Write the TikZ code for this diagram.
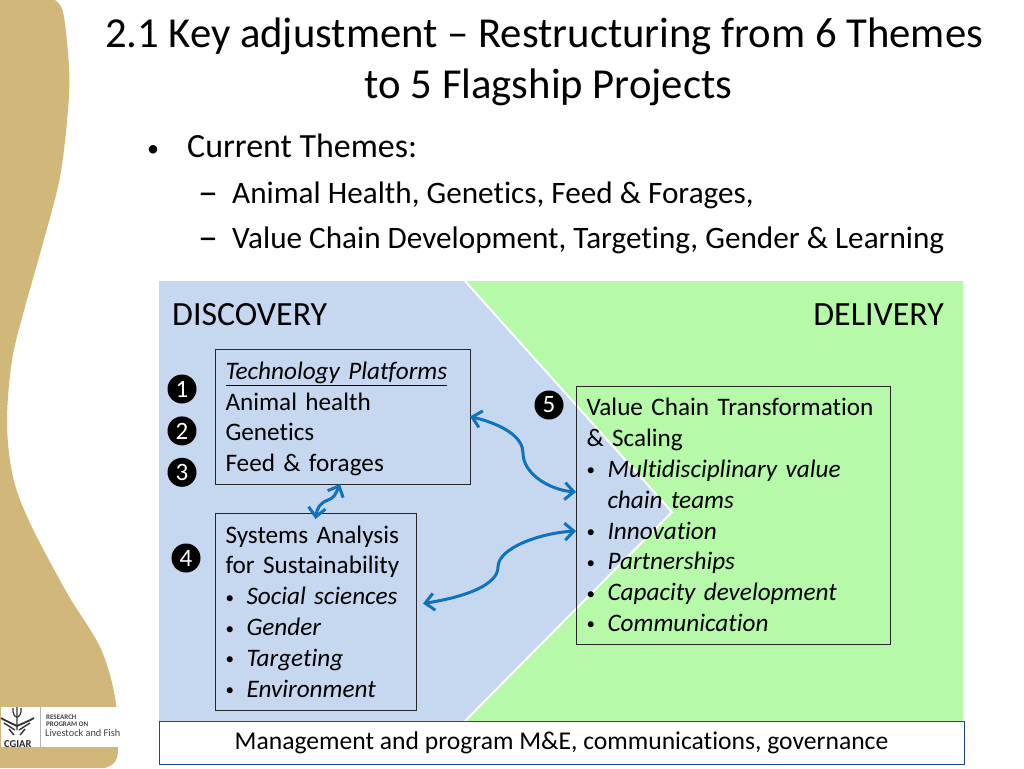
\documentclass[tikz,border=0pt]{standalone}
\usepackage{fontspec}
\setmainfont[Ligatures={CommonOff,TeX}]{Carlito}
\usepackage{tikz}
\usetikzlibrary{positioning}
\usetikzlibrary{arrows.meta}
\definecolor{tan_bg}{HTML}{D2B77B}
\definecolor{disc_blue}{HTML}{C6D8EF}
\definecolor{deliv_green}{HTML}{B6F9A8}
\definecolor{arrow_blue}{HTML}{0F72BA}
\definecolor{foot_line}{HTML}{1F4A80}
\newcommand{\dotmark}{{\fontsize{17}{17}\selectfont\raisebox{1.5pt}{•}}}
\newcommand{\bul}[1]{\makebox[21pt][l]{\dotmark}\textit{#1}}

\begin{document}
\begin{tikzpicture}[x=1pt,y=-1pt,
                          titlenode/.style={font=\fontsize{42.7}{51}\selectfont, align=center},
                          bodynode/.style={font=\fontsize{33.9}{38}\selectfont, anchor=base west, inner sep=0pt},
                          subnode/.style={font=\fontsize{31.2}{34}\selectfont, anchor=base west, inner sep=0pt},
                          dashnode/.style={font=\fontsize{40}{40}\selectfont, anchor=base west, inner sep=0pt},
                          headnode/.style={font=\fontsize{33.9}{36}\selectfont, anchor=base west, inner sep=0pt},
                          roundnode/.style={circle, fill=black, text=white, inner sep=0pt, minimum size=29pt, font=\fontsize{25}{28}\selectfont},
                          boxnode/.style={rectangle, draw=black!85, line width=1pt, outer sep=0pt, inner xsep=10.5pt, inner ysep=0pt, anchor=north west, align=left, font=\fontsize{25.2}{30.8}\selectfont},
                          logotext/.style={inner sep=0pt, anchor=base west, text=black!75},
                          linknode/.style={draw=arrow_blue, line width=3pt, {Straight Barb[length=9pt,width=17pt,line width=3pt]}-{Straight Barb[length=9pt,width=17pt,line width=3pt]}},
                      ]
                      \useasboundingbox (0,0) rectangle (1024,768);
                      \fill[white] (0,0) rectangle (1024,768);

                      %Background
                      \fill[tan_bg] plot[smooth, tension=0.55] coordinates {(53,-1) (63,12) (69,67) (68,110) (60,177) (43,243) (25,307) (12,360) (7,423) (13,477) (30,523) (67,593) (100,647) (115,697) (118,747) (115,762) (105,768)} -- (0,768) -- (0,-1) -- cycle;
                      \fill[disc_blue] (159,281) rectangle (963,721);
                      \fill[deliv_green] (466,281) -- (963,281) -- (963,721) -- (466,721) -- (672,512) -- cycle;
                      \draw[white, line width=2pt] (465,281) -- (672,512) -- (465,721);

                      %Logo
                      \fill[white] (1,707) rectangle (120,747);
                      \draw[black!30, line width=0.7pt] (40,707) -- (40,747);
                      \draw[black!80, line width=1.2pt] (17,707) -- (17,730) (13,708) .. controls (12,720) and (22,720) .. (21,708);
                      \draw[black!80, line width=1.8pt] (1,718) .. controls (8,722) and (13,724) .. (17,726) .. controls (21,724) and (27,722) .. (34,718);
                      \draw[black!80, line width=1.4pt] (4,723) -- (15,730) (30,723) -- (19,730) (9,729) -- (14,735) (25,729) -- (20,735);
                      \node[logotext, font=\bfseries\fontsize{10.5}{12}\selectfont, text=black!85] (logo_cgiar) at (4,747) {CGIAR};
                      \node[logotext, font=\bfseries\fontsize{7}{7}\selectfont] (logo_research) at (46,719) {RESEARCH};
                      \node[logotext, font=\bfseries\fontsize{7}{7}\selectfont] (logo_program) at (46,726) {PROGRAM ON};
                      \node[logotext, font=\fontsize{10.3}{12}\selectfont] (logo_name) at (45,736) {Livestock and Fish};

                      %Nodes
                      \node[titlenode]      (title)   at (544,62)     {2.1 Key adjustment -- Restructuring from 6 Themes\\\hspace*{9pt}to 5 Flagship Projects};
                      \node[bodynode]       (current_dot)  at (147,156)   {\fontsize{24}{24}\selectfont •};
                      \node[bodynode]       (current) at (187,157)    {Current Themes:};
                      \node[dashnode]       (dash_1)  at (198,205)    {--};
                      \node[subnode]        (themes_1) at (232,203)   {Animal Health, Genetics, Feed \& Forages,};
                      \node[dashnode]       (dash_2)  at (198,250)    {--};
                      \node[subnode]        (themes_2) at (232,248)   {Value Chain Development, Targeting, Gender \& Learning};
                      \node[headnode]       (discovery) at (172,325)  {DISCOVERY};
                      \node[headnode, anchor=base east] (delivery) at (944,325) {DELIVERY};

                      \node[boxnode, text width=234pt, minimum height=135pt] (tech_box) at (215,349)
                          {\rule{0pt}{22.5pt}\underline{\textit{Technology Platforms}}\\Animal health\\Genetics\\Feed \& forages};
                      \node[boxnode, text width=180pt, minimum height=197pt] (sys_box) [below=29pt of tech_box.south west, anchor=north west]
                          {Systems Analysis\\for Sustainability\\\bul{Social sciences}\\\bul{Gender}\\\bul{Targeting}\\\bul{Environment}};
                      \node[boxnode, text width=293pt, minimum height=258pt] (chain_box) at (576,386)
                          {Value Chain Transformation\\\& Scaling\\\bul{Multidisciplinary value}\\\hspace*{21pt}\textit{chain teams}\\\bul{Innovation}\\\bul{Partnerships}\\\bul{Capacity development}\\\bul{Communication}};
                      \node[rectangle, draw=foot_line, line width=1pt, fill=white, outer sep=0pt, minimum width=805pt, minimum height=43pt, anchor=north west, font=\fontsize{25.6}{30}\selectfont] (foot_box) at (159,721)
                          {\raisebox{-2pt}{Management and program M\&E, communications, governance}};

                      \node[roundnode]      (num_1)   at (182,389)    {1};
                      \node[roundnode]      (num_2)   [below=12.5pt of num_1] {2};
                      \node[roundnode]      (num_3)   [below=12pt of num_2]   {3};
                      \node[roundnode]      (num_4)   at (186,558)    {4};
                      \node[roundnode]      (num_5)   at (549,405)    {5};

                      %Lines
                      \draw[linknode] (tech_box.east) .. controls (505,425) and (523,438) .. (523,453) .. controls (523,474) and (550,490) .. ([yshift=23pt]chain_box.west);
                      \draw[linknode] ([shift={(7pt,8pt)}]sys_box.east) .. controls (465,597) and (498,585) .. (498,567) .. controls (498,548) and (540,533) .. ([yshift=-16pt]chain_box.west);
                      \draw[linknode] ([xshift=-2.5pt]tech_box.south) .. controls (335,495) and (335,497) .. (328,500) .. controls (320,503) and (317,508) .. ([yshift=-6pt]sys_box.north);
                  \end{tikzpicture}
\end{document}
